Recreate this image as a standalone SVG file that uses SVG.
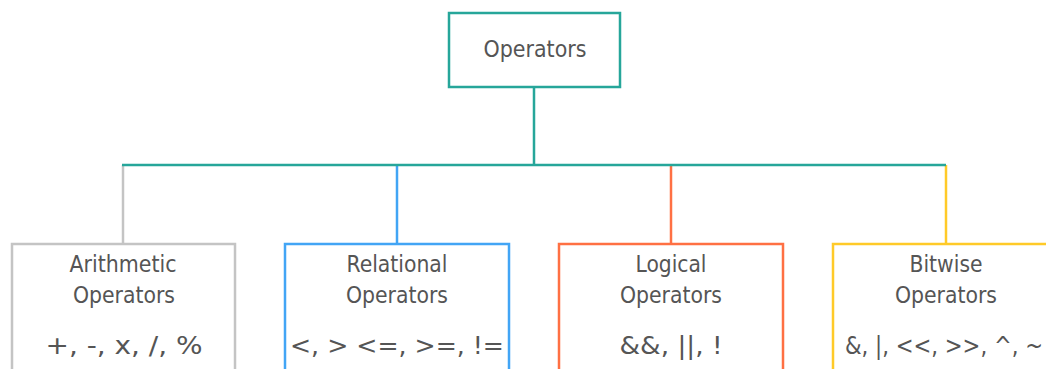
<svg xmlns="http://www.w3.org/2000/svg" width="1046" height="369" viewBox="0 0 1046 369">
<style>
.box{fill:#ffffff;stroke-width:2.5}
.t{font-family:"DejaVu Sans Condensed","DejaVu Sans",sans-serif;font-size:23.5px;fill:#555555;text-anchor:middle}
.s{font-family:"DejaVu Sans Condensed","DejaVu Sans",sans-serif;font-size:25.5px;fill:#555555;text-anchor:middle}
.ln{fill:none;stroke-width:2.5}
</style>
<rect width="1046" height="369" fill="#ffffff"/>
<g id="connectors">
<path class="ln" stroke="#c4c4c4" d="M123 165 V244"/>
<path class="ln" stroke="#42a5f5" d="M397 165 V244"/>
<path class="ln" stroke="#ff7043" d="M671 165 V244"/>
<path class="ln" stroke="#ffca28" d="M946 165 V244"/>
<path class="ln" stroke="#26a69a" d="M534 87 V165 M122 165 H946"/>
</g>
<g id="operators">
<rect class="box" stroke="#26a69a" x="449" y="13" width="171" height="74"/>
<text class="t" x="535" y="57" textLength="103" lengthAdjust="spacingAndGlyphs">Operators</text>
</g>
<g id="arithmetic">
<rect class="box" stroke="#c4c4c4" x="12" y="244" width="223" height="140"/>
<text class="t" x="123" y="272" textLength="107" lengthAdjust="spacingAndGlyphs">Arithmetic</text>
<text class="t" x="124" y="303" textLength="102" lengthAdjust="spacingAndGlyphs">Operators</text>
<text class="s" x="124" y="354" textLength="157" lengthAdjust="spacingAndGlyphs">+, -, x, /, %</text>
</g>
<g id="relational">
<rect class="box" stroke="#42a5f5" x="285" y="244" width="224" height="140"/>
<text class="t" x="397" y="272" textLength="101" lengthAdjust="spacingAndGlyphs">Relational</text>
<text class="t" x="397" y="303" textLength="102" lengthAdjust="spacingAndGlyphs">Operators</text>
<text class="s" x="397" y="354" textLength="214" lengthAdjust="spacingAndGlyphs">&lt;, &gt; &lt;=, &gt;=, !=</text>
</g>
<g id="logical">
<rect class="box" stroke="#ff7043" x="559" y="244" width="224" height="140"/>
<text class="t" x="671" y="272" textLength="71" lengthAdjust="spacingAndGlyphs">Logical</text>
<text class="t" x="671" y="303" textLength="102" lengthAdjust="spacingAndGlyphs">Operators</text>
<text class="s" x="671" y="354" textLength="103" lengthAdjust="spacingAndGlyphs">&amp;&amp;, ||, !</text>
</g>
<g id="bitwise">
<rect class="box" stroke="#ffca28" x="833" y="244" width="224" height="140"/>
<text class="t" x="946" y="272" textLength="73" lengthAdjust="spacingAndGlyphs">Bitwise</text>
<text class="t" x="946" y="303" textLength="102" lengthAdjust="spacingAndGlyphs">Operators</text>
<text class="s" x="944" y="354" textLength="198" lengthAdjust="spacingAndGlyphs">&amp;, |, &lt;&lt;, &gt;&gt;, ^, ~</text>
</g>
</svg>
